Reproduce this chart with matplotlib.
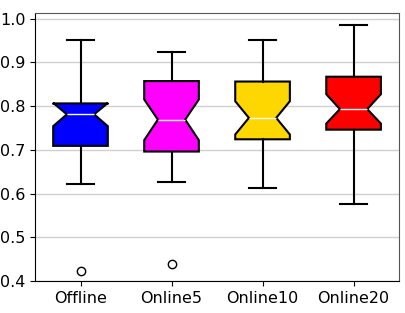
import matplotlib
matplotlib.use("Agg")
from matplotlib import pyplot as plt

labels = ["Offline", "Online5", "Online10", "Online20"]
colors = ["#0000ff", "#ff00ff", "#ffd700", "#ff0000"]
whislo = [0.621, 0.627, 0.612, 0.577]
q1 = [0.709, 0.696, 0.724, 0.746]
med = [0.781, 0.769, 0.773, 0.793]
q3 = [0.806, 0.857, 0.856, 0.867]
whishi = [0.951, 0.924, 0.950, 0.985]
cilo = [0.754, 0.722, 0.735, 0.760]
cihi = [0.807, 0.815, 0.811, 0.827]
fliers = [[0.424], [0.438], [], []]

stats = []
for i, lab in enumerate(labels):
    stats.append({'label': lab, 'whislo': whislo[i], 'q1': q1[i], 'med': med[i],
                  'q3': q3[i], 'whishi': whishi[i], 'cilo': cilo[i], 'cihi': cihi[i],
                  'fliers': fliers[i]})

fig = plt.figure(figsize=(4.05, 3.13), dpi=100)
ax = fig.add_axes([0.0864, 0.102, 0.899, 0.857])

bp = ax.bxp(stats, shownotches=True, patch_artist=True, widths=0.6,
            boxprops=dict(edgecolor='black', linewidth=1.5),
            whiskerprops=dict(color='black', linewidth=1.5),
            capprops=dict(color='black', linewidth=1.5),
            medianprops=dict(color='white', linewidth=1),
            flierprops=dict(marker='o', markerfacecolor='white', markeredgecolor='black', markersize=6))
for patch, c in zip(bp['boxes'], colors):
    patch.set_facecolor(c)

ax.set_xlim(0.5, 4.5)
ax.set_ylim(0.4, 1.013)
ax.set_yticks([0.4, 0.5, 0.6, 0.7, 0.8, 0.9, 1.0])
ax.yaxis.grid(True, color='#d0d0d0', linewidth=1)
ax.set_axisbelow(True)
ax.tick_params(labelsize=11.5)
for s in ['top', 'right']:
    ax.spines[s].set_color('#555555')

fig.savefig("out.png", dpi=100)
